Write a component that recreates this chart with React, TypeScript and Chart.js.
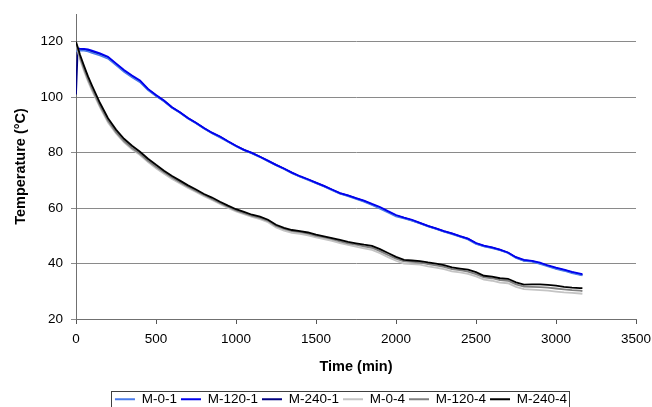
import React, { useEffect, useRef } from "react";
import { Chart, registerables } from "chart.js";

Chart.register(...registerables);

const times = [0, 10, 25, 50, 75, 100, 150, 200, 250, 300, 350, 400, 450, 500, 550, 600, 650, 700, 750, 800, 850, 900, 950, 1000, 1050, 1100, 1150, 1200, 1250, 1300, 1350, 1400, 1450, 1500, 1550, 1600, 1650, 1700, 1750, 1800, 1850, 1900, 1950, 2000, 2050, 2100, 2150, 2200, 2250, 2300, 2350, 2400, 2450, 2500, 2550, 2600, 2650, 2700, 2750, 2800, 2850, 2900, 2950, 3000, 3050, 3100, 3150, 3165];

const m0_1 = [116.5, 116.8, 116.9, 116.8, 116.5, 116.0, 115.1, 113.9, 111.6, 109.2, 107.2, 105.4, 102.6, 100.4, 98.5, 96.2, 94.4, 92.3, 90.6, 88.7, 87.0, 85.5, 83.9, 82.3, 80.9, 79.7, 78.4, 76.9, 75.5, 74.1, 72.6, 71.3, 70.2, 69.0, 67.8, 66.5, 65.2, 64.3, 63.3, 62.3, 61.1, 59.8, 58.4, 57.0, 56.3, 55.5, 54.5, 53.4, 52.5, 51.5, 50.6, 49.7, 48.7, 47.1, 46.2, 45.6, 44.8, 43.8, 42.0, 41.0, 40.7, 39.9, 39.0, 38.1, 37.4, 36.5, 35.9, 35.7];
const m120_1 = [117.8, 117.6, 117.5, 117.4, 117.2, 116.8, 115.8, 114.6, 112.2, 109.8, 107.8, 106.0, 103.0, 100.8, 98.8, 96.4, 94.6, 92.5, 90.8, 88.9, 87.2, 85.8, 84.1, 82.5, 81.0, 79.9, 78.5, 77.1, 75.6, 74.3, 72.8, 71.5, 70.4, 69.2, 68.0, 66.7, 65.4, 64.6, 63.6, 62.7, 61.5, 60.4, 58.9, 57.5, 56.6, 55.8, 54.7, 53.6, 52.7, 51.7, 50.9, 49.9, 49.0, 47.4, 46.5, 45.8, 45.0, 44.0, 42.3, 41.3, 41.0, 40.3, 39.3, 38.5, 37.8, 37.0, 36.4, 36.2];
const m240_1 = [101.0, 116.2, 117.0, 117.1, 116.9, 116.4, 115.4, 114.2, 111.9, 109.5, 107.5, 105.7, 102.8, 100.6, 98.6, 96.3, 94.5, 92.4, 90.7, 88.8, 87.1, 85.7, 84.0, 82.4, 81.0, 79.8, 78.5, 77.0, 75.6, 74.2, 72.7, 71.4, 70.3, 69.1, 67.9, 66.6, 65.3, 64.5, 63.5, 62.5, 61.3, 60.1, 58.7, 57.3, 56.5, 55.6, 54.6, 53.5, 52.6, 51.6, 50.8, 49.8, 48.9, 47.3, 46.3, 45.7, 44.9, 43.9, 42.2, 41.1, 40.9, 40.1, 39.2, 38.3, 37.6, 36.8, 36.1, 35.9];
const m0_4 = [119.0, 116.8, 113.6, 109.5, 105.7, 102.4, 96.3, 90.9, 86.9, 83.7, 81.2, 79.1, 76.6, 74.4, 72.4, 70.5, 68.9, 67.3, 65.8, 64.3, 62.9, 61.5, 60.1, 58.8, 57.8, 56.8, 56.0, 54.9, 53.0, 51.9, 51.1, 50.7, 50.2, 49.4, 48.8, 48.2, 47.4, 46.7, 46.1, 45.5, 44.9, 43.7, 42.3, 41.0, 40.0, 39.8, 39.6, 39.0, 38.5, 38.0, 37.2, 36.8, 36.3, 35.4, 34.2, 33.8, 33.1, 32.9, 31.6, 30.8, 30.6, 30.4, 30.2, 29.9, 29.6, 29.4, 29.2, 29.1];
const m120_4 = [119.5, 117.4, 114.3, 110.2, 106.4, 103.1, 96.9, 91.5, 87.4, 84.2, 81.7, 79.6, 77.1, 74.9, 72.9, 71.0, 69.3, 67.7, 66.2, 64.7, 63.3, 61.9, 60.5, 59.2, 58.2, 57.2, 56.5, 55.4, 53.6, 52.5, 51.7, 51.3, 50.8, 50.0, 49.4, 48.8, 48.0, 47.3, 46.8, 46.2, 45.7, 44.5, 43.1, 41.8, 40.8, 40.6, 40.4, 39.8, 39.3, 38.8, 38.0, 37.6, 37.1, 36.2, 35.0, 34.7, 34.0, 33.8, 32.5, 31.7, 31.6, 31.5, 31.3, 31.0, 30.7, 30.4, 30.2, 30.1];
const m240_4 = [120.0, 118.2, 115.3, 111.3, 107.5, 104.2, 97.9, 92.4, 88.3, 85.0, 82.5, 80.3, 77.8, 75.6, 73.5, 71.6, 69.9, 68.2, 66.7, 65.1, 63.8, 62.3, 60.9, 59.6, 58.6, 57.6, 56.9, 55.8, 54.0, 52.9, 52.1, 51.7, 51.2, 50.4, 49.8, 49.2, 48.5, 47.8, 47.3, 46.8, 46.4, 45.2, 43.8, 42.4, 41.3, 41.1, 40.9, 40.4, 40.0, 39.4, 38.6, 38.2, 37.8, 36.9, 35.6, 35.3, 34.7, 34.5, 33.2, 32.4, 32.5, 32.5, 32.3, 32.0, 31.6, 31.3, 31.1, 31.1];

const seriesNames = ["M-0-1", "M-120-1", "M-240-1", "M-0-4", "M-120-4", "M-240-4"];
const seriesValues = [m0_1, m120_1, m240_1, m0_4, m120_4, m240_4];
const seriesColors = ["#4a7bea", "#0000ee", "#000080", "#c4c4c4", "#808080", "#000000"];
const seriesOrder = [5, 4, 6, 3, 2, 1];

const yTicks = [20, 40, 60, 80, 100, 120];
const xTitle = "Time (min)";
const yTitle = "Temperature (\u00B0C)";

const FONT = "'Liberation Sans', Arial, sans-serif";

const legendTweak = {
  id: "legendTweak",
  afterLayout(chart: any) {
    const lg = chart.legend;
    if (!lg) return;
    lg.left += 23;
    lg.right += 23;
  },
  afterDraw(chart: any) {
    const lg = chart.legend;
    if (!lg || !lg.legendHitBoxes || !lg.legendHitBoxes.length) return;
    const boxes = lg.legendHitBoxes;
    let minX = Infinity, maxX = -Infinity, minY = Infinity, maxY = -Infinity;
    boxes.forEach((b: any) => {
      minX = Math.min(minX, b.left);
      maxX = Math.max(maxX, b.left + b.width);
      minY = Math.min(minY, b.top);
      maxY = Math.max(maxY, b.top + b.height);
    });
    const ctx = chart.ctx;
    ctx.save();
    ctx.strokeStyle = "#404040";
    ctx.lineWidth = 1;
    ctx.strokeRect(Math.round(minX - 4) + 0.5, Math.round(minY - 2) + 0.5, Math.round(maxX - minX + 6), Math.round(maxY - minY + 4));
    ctx.restore();
  },
};

export default function App() {
  const ref = useRef<HTMLCanvasElement | null>(null);
  useEffect(() => {
    if (!ref.current) return;
    const datasets = seriesNames.map((name, i) => ({
      label: name,
      data: times.map((t, j) => ({ x: t, y: seriesValues[i][j] })),
      borderColor: seriesColors[i],
      backgroundColor: seriesColors[i],
      borderWidth: 1.8,
      pointRadius: 0,
      tension: 0,
      order: seriesOrder[i],
    }));
    const chart = new Chart(ref.current, {
      type: "line",
      data: { datasets },
      plugins: [legendTweak],
      options: {
        animation: false,
        responsive: false,
        maintainAspectRatio: false,
        layout: { padding: { left: 0, right: 16, top: 14, bottom: 0 } },
        plugins: {
          tooltip: { enabled: false },
          legend: {
            position: "bottom",
            labels: {
              usePointStyle: true,
              pointStyle: "line",
              pointStyleWidth: 20,
              padding: 4,
              color: "#000",
              font: { family: FONT, size: 13.5 },
              sort: (a: any, b: any) => a.datasetIndex - b.datasetIndex,
            },
          },
        },
        scales: {
          x: {
            type: "linear",
            min: 0,
            max: 3500,
            afterFit: (axis: any) => {
              axis.height = 69.5;
              axis.paddingRight = 0;
              axis.paddingLeft = 0;
            },
            ticks: {
              stepSize: 500,
              color: "#000",
              padding: 7,
              maxRotation: 0,
              font: { family: FONT, size: 13.5 },
              callback: (v: any) => String(v),
            },
            grid: { drawOnChartArea: false, drawTicks: true, tickLength: 5, color: "#555" },
            border: { color: "#707070", width: 1 },
            title: {
              display: true,
              text: xTitle,
              color: "#000",
              font: { family: FONT, size: 14.5, weight: "bold" },
              padding: { top: 0, bottom: 13 },
            },
          },
          y: {
            type: "linear",
            min: 20,
            max: 130,
            afterFit: (axis: any) => {
              axis.width = 76;
              axis.paddingTop = 0;
              axis.paddingBottom = 0;
            },
            afterBuildTicks: (axis: any) => {
              axis.ticks = yTicks.map((v) => ({ value: v }));
            },
            ticks: {
              color: "#000",
              padding: 8,
              font: { family: FONT, size: 13.5 },
              callback: (v: any) => String(v),
            },
            grid: { drawOnChartArea: true, drawTicks: true, tickLength: 5, color: "#8a8a8a" },
            border: { color: "#707070", width: 1 },
            title: {
              display: true,
              text: yTitle,
              color: "#000",
              font: { family: FONT, size: 14.5, weight: "bold" },
              padding: { top: 12, bottom: 0 },
            },
          },
        },
      },
    } as any);
    return () => chart.destroy();
  }, []);
  return (
    <div style={{ position: "fixed", left: 0, top: 0, width: 652, height: 416, background: "#fff" }}>
      <canvas ref={ref} width={652} height={416} style={{ width: 652, height: 416, display: "block" }} />
    </div>
  );
}
